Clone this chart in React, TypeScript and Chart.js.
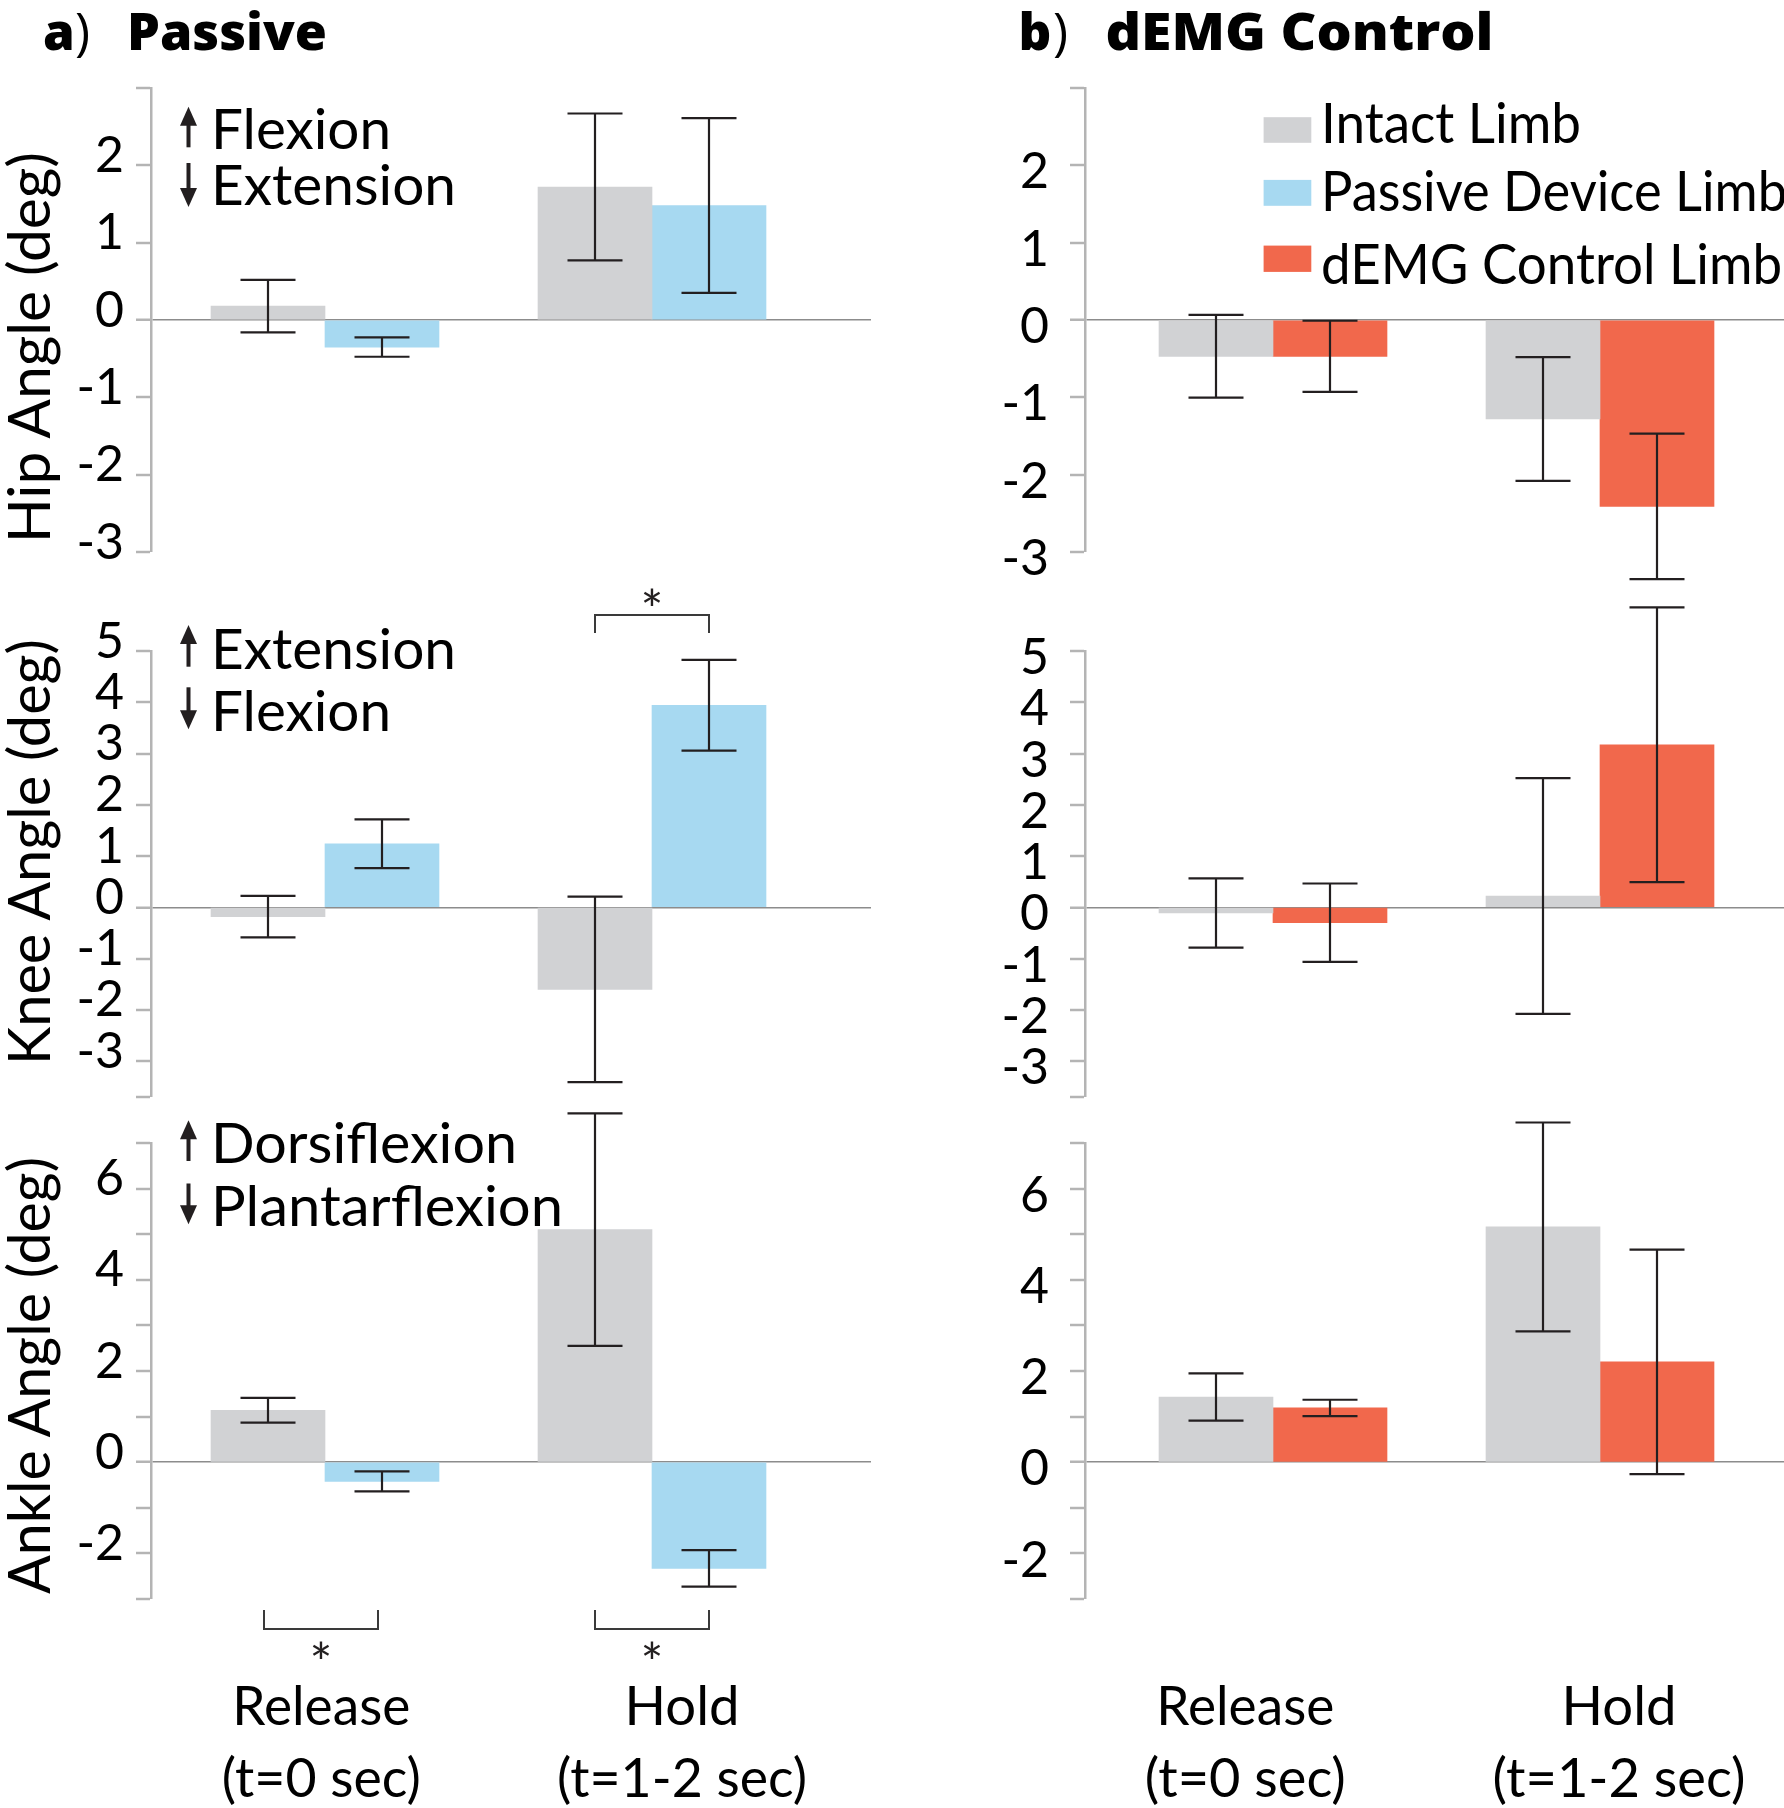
import React, { useEffect, useRef } from 'react';
import { Chart, registerables } from 'chart.js';

Chart.register(...registerables);

// ---------------- data ----------------
const categories = ['Release', 'Hold'];
const categoryNotes = ['(t=0 sec)', '(t=1-2 sec)'];
const legendLabels = ['Intact Limb', 'Passive Device Limb', 'dEMG Control Limb'];

// Hip angle (deg)
const hipPassiveIntact = [0.18, 1.72];
const hipPassiveIntactErr = [0.34, 0.95];
const hipPassiveDevice = [-0.35, 1.48];
const hipPassiveDeviceErr = [0.125, 1.13];
const hipDemgIntact = [-0.47, -1.28];
const hipDemgIntactErr = [0.535, 0.8];
const hipDemgControl = [-0.47, -2.41];
const hipDemgControlErr = [0.46, 0.94];

// Knee angle (deg)
const kneePassiveIntact = [-0.18, -1.6];
const kneePassiveIntactErr = [0.405, 1.81];
const kneePassiveDevice = [1.24, 3.94];
const kneePassiveDeviceErr = [0.475, 0.885];
const kneeDemgIntact = [-0.11, 0.22];
const kneeDemgIntactErr = [0.675, 2.3];
const kneeDemgControl = [-0.3, 3.17];
const kneeDemgControlErr = [0.765, 2.68];

// Ankle angle (deg)
const anklePassiveIntact = [1.14, 5.1];
const anklePassiveIntactErr = [0.27, 2.55];
const anklePassiveDevice = [-0.42, -2.33];
const anklePassiveDeviceErr = [0.22, 0.4];
const ankleDemgIntact = [1.43, 5.16];
const ankleDemgIntactErr = [0.52, 2.29];
const ankleDemgControl = [1.19, 2.2];
const ankleDemgControlErr = [0.18, 2.46];

// y ticks and their labels
const hipTicks = [-3, -2, -1, 0, 1, 2, 3];
const hipTickLabels = ['-3', '-2', '-1', '0', '1', '2', ''];
const kneeTicks = [-3.7, -3, -2, -1, 0, 1, 2, 3, 4, 5];
const kneeTickLabels = ['', '-3', '-2', '-1', '0', '1', '2', '3', '4', '5'];
const ankleTicks = [-3, -2, -1, 0, 1, 2, 3, 4, 5, 6, 7];
const ankleTickLabels = ['', '-2', '', '0', '', '2', '', '4', '', '6', ''];

// ---------------- styling / layout ----------------
const COLORS = { intact: '#d1d2d4', passive: '#a7d9f1', demg: '#f1684c' };
const FONT = 'Lato, "DejaVu Sans", sans-serif';
const GROUP_SPACING = 327;
const BAR_W = 114;
const CAP_HALF = 27.5;
const Y_AXIS_W = 130;

const COLS: any = {
  A: { axisX: 151, right: 871, firstCenter: 325, labelPadding: 12, labelOffset: -9.5 },
  B: { axisX: 1085, right: 1784, firstCenter: 1273, labelPadding: 21, labelOffset: 7 },
};

type Series = { label: string; values: number[]; errors: number[]; color: string };
type Bracket = { index: number; where: 'top' | 'bottom'; dx: number };
type PanelSpec = {
  col: 'A' | 'B';
  top: number;
  bottom: number;
  padTop: number;
  padBottom: number;
  min: number;
  max: number;
  ticks: number[];
  tickLabels: string[];
  series: Series[];
  brackets: Bracket[];
};

const PANELS: PanelSpec[] = [
  {
    col: 'A', top: 88, bottom: 552, padTop: 60, padBottom: 60, min: -3, max: 3,
    ticks: hipTicks, tickLabels: hipTickLabels,
    series: [
      { label: legendLabels[0], values: hipPassiveIntact, errors: hipPassiveIntactErr, color: COLORS.intact },
      { label: legendLabels[1], values: hipPassiveDevice, errors: hipPassiveDeviceErr, color: COLORS.passive },
    ],
    brackets: [],
  },
  {
    col: 'B', top: 88, bottom: 552, padTop: 60, padBottom: 60, min: -3, max: 3,
    ticks: hipTicks, tickLabels: hipTickLabels,
    series: [
      { label: legendLabels[0], values: hipDemgIntact, errors: hipDemgIntactErr, color: COLORS.intact },
      { label: legendLabels[2], values: hipDemgControl, errors: hipDemgControlErr, color: COLORS.demg },
    ],
    brackets: [],
  },
  {
    col: 'A', top: 651, bottom: 1097, padTop: 90, padBottom: 60, min: -3.7, max: 5,
    ticks: kneeTicks, tickLabels: kneeTickLabels,
    series: [
      { label: legendLabels[0], values: kneePassiveIntact, errors: kneePassiveIntactErr, color: COLORS.intact },
      { label: legendLabels[1], values: kneePassiveDevice, errors: kneePassiveDeviceErr, color: COLORS.passive },
    ],
    brackets: [{ index: 1, where: 'top', dx: 0 }],
  },
  {
    col: 'B', top: 651, bottom: 1097, padTop: 90, padBottom: 60, min: -3.7, max: 5,
    ticks: kneeTicks, tickLabels: kneeTickLabels,
    series: [
      { label: legendLabels[0], values: kneeDemgIntact, errors: kneeDemgIntactErr, color: COLORS.intact },
      { label: legendLabels[2], values: kneeDemgControl, errors: kneeDemgControlErr, color: COLORS.demg },
    ],
    brackets: [],
  },
  {
    col: 'A', top: 1143, bottom: 1599, padTop: 60, padBottom: 90, min: -3, max: 7,
    ticks: ankleTicks, tickLabels: ankleTickLabels,
    series: [
      { label: legendLabels[0], values: anklePassiveIntact, errors: anklePassiveIntactErr, color: COLORS.intact },
      { label: legendLabels[1], values: anklePassiveDevice, errors: anklePassiveDeviceErr, color: COLORS.passive },
    ],
    brackets: [{ index: 0, where: 'bottom', dx: -4 }, { index: 1, where: 'bottom', dx: 0 }],
  },
  {
    col: 'B', top: 1143, bottom: 1599, padTop: 60, padBottom: 90, min: -3, max: 7,
    ticks: ankleTicks, tickLabels: ankleTickLabels,
    series: [
      { label: legendLabels[0], values: ankleDemgIntact, errors: ankleDemgIntactErr, color: COLORS.intact },
      { label: legendLabels[2], values: ankleDemgControl, errors: ankleDemgControlErr, color: COLORS.demg },
    ],
    brackets: [],
  },
];

const errorBarPlugin = {
  id: 'errorBars',
  afterDatasetsDraw(chart: any) {
    const ctx = chart.ctx;
    const yScale = chart.scales.y;
    chart.data.datasets.forEach((ds: any, di: number) => {
      const meta = chart.getDatasetMeta(di);
      meta.data.forEach((bar: any, i: number) => {
        const v = ds.data[i].y;
        const e = ds.errorValues[i];
        const x = bar.x;
        const yt = yScale.getPixelForValue(v + e);
        const yb = yScale.getPixelForValue(v - e);
        ctx.save();
        ctx.strokeStyle = '#231f20';
        ctx.lineWidth = 2.2;
        ctx.beginPath();
        ctx.moveTo(x, yt);
        ctx.lineTo(x, yb);
        ctx.moveTo(x - CAP_HALF, yt);
        ctx.lineTo(x + CAP_HALF, yt);
        ctx.moveTo(x - CAP_HALF, yb);
        ctx.lineTo(x + CAP_HALF, yb);
        ctx.stroke();
        ctx.restore();
      });
    });
  },
};

function makeBracketPlugin(brackets: Bracket[]) {
  return {
    id: 'sigBrackets',
    afterDatasetsDraw(chart: any) {
      const { ctx, chartArea } = chart;
      const m0 = chart.getDatasetMeta(0);
      const m1 = chart.getDatasetMeta(1);
      brackets.forEach((b) => {
        const x1 = m0.data[b.index].x + b.dx;
        const x2 = m1.data[b.index].x + b.dx;
        let lineY: number, legY: number, starY: number;
        if (b.where === 'top') {
          lineY = chartArea.top - 36;
          legY = chartArea.top - 18;
          starY = chartArea.top - 54;
        } else {
          lineY = chartArea.bottom + 30;
          legY = chartArea.bottom + 11;
          starY = chartArea.bottom + 51;
        }
        ctx.save();
        ctx.strokeStyle = '#3a3a3a';
        ctx.lineWidth = 2;
        ctx.beginPath();
        ctx.moveTo(x1, legY);
        ctx.lineTo(x1, lineY);
        ctx.lineTo(x2, lineY);
        ctx.lineTo(x2, legY);
        ctx.stroke();
        ctx.font = '54px ' + FONT;
        ctx.fillStyle = '#231f20';
        ctx.textAlign = 'center';
        ctx.textBaseline = 'alphabetic';
        const m = ctx.measureText('*');
        const base = starY + (m.actualBoundingBoxAscent - m.actualBoundingBoxDescent) / 2;
        ctx.fillText('*', (x1 + x2) / 2, base);
        ctx.restore();
      });
    },
  };
}

function geometry(p: PanelSpec) {
  const c = COLS[p.col];
  const left = c.axisX - Y_AXIS_W;
  const width = c.right - left;
  const top = p.top - p.padTop;
  const height = p.padTop + (p.bottom - p.top) + p.padBottom;
  return { left, width, top, height };
}

function buildConfig(p: PanelSpec): any {
  const c = COLS[p.col];
  const xMin = -(c.firstCenter - c.axisX) / GROUP_SPACING;
  const xMax = (c.right - c.firstCenter) / GROUP_SPACING;
  return {
    type: 'bar',
    data: {
      labels: categories,
      datasets: p.series.map((s) => ({
        label: s.label,
        data: s.values.map((v, i) => ({ x: i, y: v })),
        errorValues: s.errors,
        backgroundColor: s.color,
        borderWidth: 0,
        barThickness: BAR_W,
      })),
    },
    options: {
      animation: false,
      responsive: false,
      maintainAspectRatio: false,
      events: [],
      layout: { padding: { left: 0, right: 0, top: p.padTop, bottom: p.padBottom } },
      plugins: { legend: { display: false }, tooltip: { enabled: false }, title: { display: false } },
      scales: {
        x: { type: 'linear', display: false, min: xMin, max: xMax, offset: false, grid: { display: false } },
        y: {
          type: 'linear',
          position: 'left',
          min: p.min,
          max: p.max,
          afterFit: (s: any) => {
            s.width = Y_AXIS_W;
          },
          afterBuildTicks: (s: any) => {
            s.ticks = p.ticks.map((v) => ({ value: v }));
          },
          ticks: {
            autoSkip: false,
            callback: (_v: any, i: number) => p.tickLabels[i],
            font: { family: FONT, size: 50 },
            color: '#000',
            padding: c.labelPadding,
            labelOffset: c.labelOffset,
            maxRotation: 0,
            minRotation: 0,
          },
          grid: {
            color: (ctx: any) => (ctx.tick && ctx.tick.value === 0 ? '#8c8c8c' : 'rgba(0,0,0,0)'),
            lineWidth: (ctx: any) => (ctx.tick && ctx.tick.value === 0 ? 1.5 : 0),
            tickColor: '#b4b4b4',
            tickWidth: 2.5,
            tickLength: 15,
            drawTicks: true,
          },
          border: { display: true, color: '#b4b4b4', width: 2.5 },
        },
      },
    },
    plugins: [errorBarPlugin, makeBracketPlugin(p.brackets)],
  };
}

function Panel({ spec }: { spec: PanelSpec }) {
  const ref = useRef<HTMLCanvasElement>(null);
  const g = geometry(spec);
  useEffect(() => {
    if (!ref.current) return;
    const chart = new Chart(ref.current, buildConfig(spec));
    return () => chart.destroy();
  }, []);
  return (
    <canvas
      ref={ref}
      width={g.width}
      height={g.height}
      style={{ position: 'absolute', left: g.left, top: g.top, width: g.width, height: g.height }}
    />
  );
}

function Arrow({ x, y1, y2, up }: { x: number; y1: number; y2: number; up: boolean }) {
  const hw = 8.5;
  const hh = 19;
  if (up) {
    return (
      <g fill="#231f20">
        <polygon points={`${x},${y1} ${x + hw},${y1 + hh} ${x - hw},${y1 + hh}`} />
        <rect x={x - 2} y={y1 + hh - 1} width={4} height={y2 - y1 - hh + 1} />
      </g>
    );
  }
  return (
    <g fill="#231f20">
      <polygon points={`${x},${y2} ${x + hw},${y2 - hh} ${x - hw},${y2 - hh}`} />
      <rect x={x - 2} y={y1} width={4} height={y2 - y1 - hh + 1} />
    </g>
  );
}

function T(props: any) {
  const { x, y, len, size, weight, anchor, family, children, transform } = props;
  const extra: any = {};
  if (len) {
    extra.textLength = len;
    extra.lengthAdjust = 'spacingAndGlyphs';
  }
  return (
    <text
      x={x}
      y={y}
      transform={transform}
      fontFamily={family || FONT}
      fontSize={size}
      fontWeight={weight || 400}
      textAnchor={anchor || 'start'}
      fill="#000"
      {...extra}
    >
      {children}
    </text>
  );
}

const TITLE_FONT = '"Open Sans", Lato, sans-serif';

function Overlay() {
  const ann = [
    { up: true, a: [106.7, 147.3], text: 'Flexion', base: 149.3, len: 180 },
    { up: false, a: [163, 207], text: 'Extension', base: 204.5, len: 245 },
    { up: true, a: [625, 666.7], text: 'Extension', base: 669, len: 245 },
    { up: false, a: [687.3, 729.3], text: 'Flexion', base: 730.7, len: 180 },
    { up: true, a: [1120.3, 1161], text: 'Dorsiflexion', base: 1163.3, len: 306 },
    { up: false, a: [1183.5, 1224.2], text: 'Plantarflexion', base: 1226, len: 352 },
  ];
  const yTitles = [
    { text: 'Hip Angle (deg)', start: 543, len: 391 },
    { text: 'Knee Angle (deg)', start: 1065, len: 426 },
    { text: 'Ankle Angle (deg)', start: 1594, len: 437 },
  ];
  const legendRows = [
    { color: COLORS.intact, y0: 117.2, y1: 142.8, base: 142.8, len: 260 },
    { color: COLORS.passive, y0: 179.9, y1: 205.8, base: 210.9, len: 466 },
    { color: COLORS.demg, y0: 245.6, y1: 271.9, base: 284.1, len: 461 },
  ];
  const catA = [
    { cx: 321.3, lens: [178, 199] },
    { cx: 682, lens: [115, 250] },
  ];
  const catB = [
    { cx: 1245.3, lens: [178, 201] },
    { cx: 1619, lens: [115, 253] },
  ];
  return (
    <svg
      width={1784}
      height={1808}
      style={{ position: 'absolute', left: 0, top: 0, pointerEvents: 'none' }}
    >
      {/* panel titles */}
      <T x={43} y={50} size={51} weight={800} family={TITLE_FONT}>a</T>
      <T x={75} y={50} size={51} weight={400} family={TITLE_FONT}>)</T>
      <T x={127} y={50} size={51} weight={800} len={200} family={TITLE_FONT}>Passive</T>
      <T x={1018.5} y={50} size={51} weight={800} family={TITLE_FONT}>b</T>
      <T x={1053} y={50} size={51} weight={400} family={TITLE_FONT}>)</T>
      <T x={1105.5} y={50} size={51} weight={800} len={388} family={TITLE_FONT}>dEMG Control</T>

      {/* direction annotations */}
      {ann.map((a, i) => (
        <g key={'ann' + i}>
          <Arrow x={188.5} y1={a.a[0]} y2={a.a[1]} up={a.up} />
          <T x={211} y={a.base} size={56} len={a.len}>{a.text}</T>
        </g>
      ))}

      {/* y-axis titles */}
      {yTitles.map((t, i) => (
        <T key={'yt' + i} x={0} y={0} size={58} len={t.len} transform={`translate(50 ${t.start}) rotate(-90)`}>
          {t.text}
        </T>
      ))}

      {/* legend */}
      {legendRows.map((r, i) => (
        <g key={'lg' + i}>
          <rect x={1263.6} y={r.y0} width={47.7} height={r.y1 - r.y0} fill={r.color} />
          <T x={1321} y={r.base} size={56} len={r.len}>{legendLabels[i]}</T>
        </g>
      ))}

      {/* category labels */}
      {[catA, catB].map((col, ci) =>
        col.map((c, i) => (
          <g key={'cat' + ci + i}>
            <T x={c.cx} y={1725} size={54} anchor="middle" len={c.lens[0]}>{categories[i]}</T>
            <T x={c.cx} y={1797} size={54} anchor="middle" len={c.lens[1]}>{categoryNotes[i]}</T>
          </g>
        ))
      )}
    </svg>
  );
}

export default function App() {
  return (
    <div style={{ position: 'absolute', left: 0, top: 0, width: 1784, height: 1808, background: '#fff', overflow: 'hidden' }}>
      {PANELS.map((p, i) => (
        <Panel key={i} spec={p} />
      ))}
      <Overlay />
    </div>
  );
}
